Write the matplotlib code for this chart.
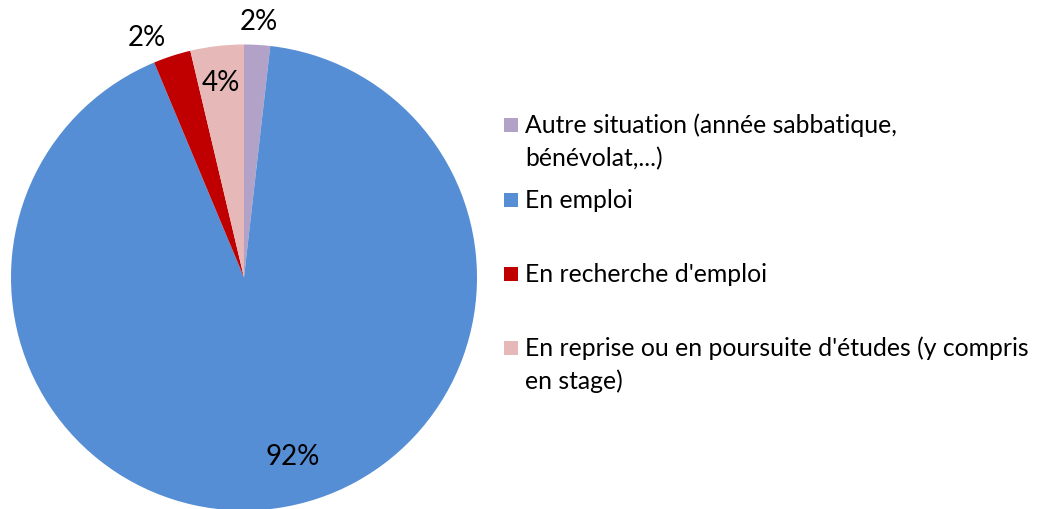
import numpy as np
import matplotlib
matplotlib.use('Agg')
import matplotlib.pyplot as plt
from matplotlib.patches import Rectangle

# Data (shares, percent)
categories = ['Autre situation (année sabbatique,\nbénévolat,...)',
              'En emploi',
              "En recherche d'emploi",
              "En reprise ou en poursuite d'études (y compris\nen stage)"]
shares = [1.8, 91.9, 2.6, 3.7]
pct_labels = ['2%', '92%', '2%', '4%']
colors = ['#B3A2C7', '#558ED5', '#C00000', '#E6B9B8']

plt.rcParams['font.family'] = ['Lato', 'DejaVu Sans']

W, H = 1042, 509
fig = plt.figure(figsize=(W / 100, H / 100), dpi=100)

# pie axes: centre (244, 277) px, radius 233 px
cx, cy, r = 244, 277.5, 233
ax = fig.add_axes([(cx - r) / W, (H - cy - r) / H, 2 * r / W, 2 * r / H])
wedges, _ = ax.pie(shares, colors=colors, startangle=90, counterclock=False,
                   radius=1, wedgeprops=dict(linewidth=0))
ax.set_xlim(-1, 1)
ax.set_ylim(-1, 1)
ax.set_aspect('equal')
ax.axis('off')

# label placement per slice (Excel "best fit" look)
label_dist = [1.10, 0.80, 1.11, 0.84]
label_shift = [0, 7, 4, 0]  # degrees
for w, txt, d, s in zip(wedges, pct_labels, label_dist, label_shift):
    ang = np.deg2rad((w.theta1 + w.theta2) / 2 + s)
    ax.text(d * np.cos(ang), d * np.sin(ang), txt, ha='center', va='center',
            fontsize=20, color='black', clip_on=False)

# manual legend on the right
baselines = [133, 208, 282, 356]
line_gap = 33
for lab, col, yb in zip(categories, colors, baselines):
    fig.patches.append(Rectangle((504 / W, 1 - (yb - 1) / H), 14 / W, 14 / H,
                                 transform=fig.transFigure, facecolor=col,
                                 edgecolor='none'))
    for i, line in enumerate(lab.split('\n')):
        fig.text(525 / W, 1 - (yb + i * line_gap) / H, line, ha='left',
                 va='baseline', fontsize=17.8, color='black')

fig.savefig('out.png', dpi=100)
